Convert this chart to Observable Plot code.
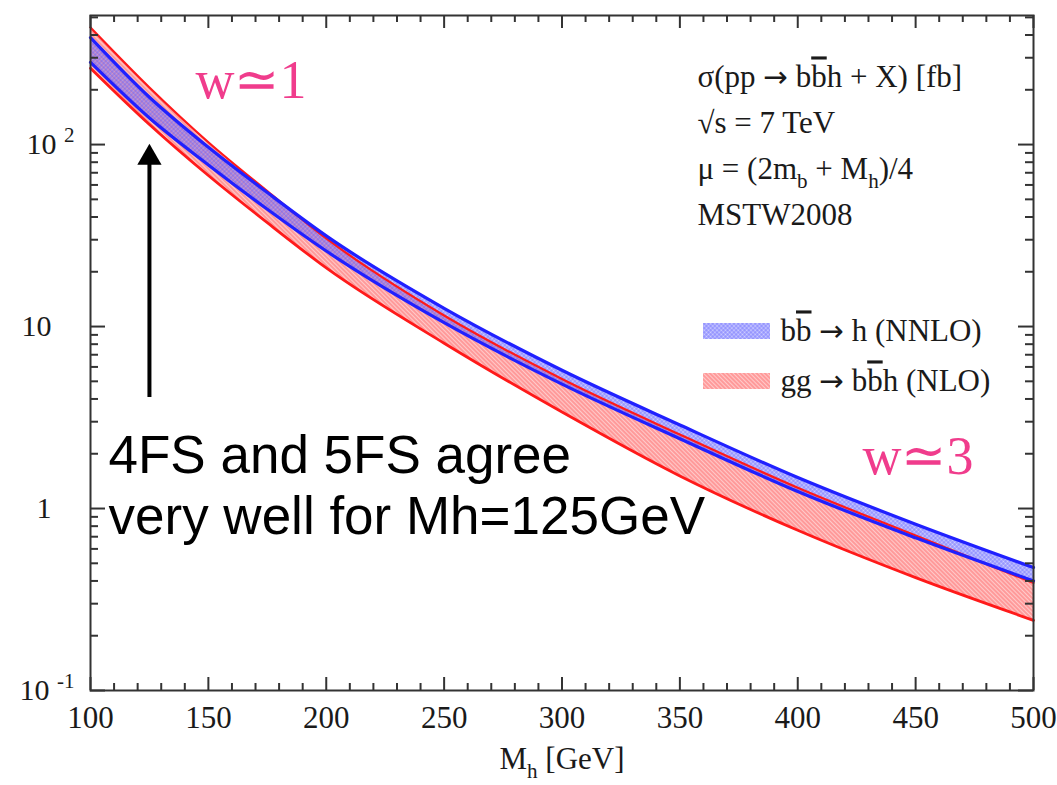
<!DOCTYPE html>
<html><head><meta charset="utf-8">
<script src="https://cdn.jsdelivr.net/npm/d3@7"></script>
<script src="https://cdn.jsdelivr.net/npm/@observablehq/plot@0.6"></script>
<style>body{margin:0;background:#fff}</style>
</head><body><div id="chart"></div>
<script>
// ---- data ----
const massGeV      = [100, 125, 150, 175, 200, 250, 300, 350, 400, 450, 500];
const bbhNNLOHigh  = [387, 182, 96.6, 54.5, 31.5, 12.6, 5.75, 2.88, 1.48, 0.82, 0.474];
const bbhNNLOLow   = [283, 140, 77.3, 44.1, 26.0, 10.5, 4.83, 2.42, 1.24, 0.69, 0.40];
const ggbbhNLOHigh = [440, 206, 103, 55.5, 30.5, 11.5, 5.15, 2.55, 1.30, 0.71, 0.39];
const ggbbhNLOLow  = [263, 129, 67.6, 37.2, 21.0, 8.1, 3.39, 1.51, 0.759, 0.417, 0.243];

const xMajorTicks = [100, 150, 200, 250, 300, 350, 400, 450, 500];
const xTickLabels = ["100", "150", "200", "250", "300", "350", "400", "450", "500"];
const yMajorTicks = [0.1, 1, 10, 100];
const yTickBase   = ["10", "1", "10", "10"];
const yTickExp    = ["-1", "", "", "2"];

const infoLines = ["σ(pp @{→} b~{b}h + X) [fb]", "√s = 7 TeV", "μ = (2m_{b} + M_{h})/4", "MSTW2008"];
const legendLabels = ["b~{b} @{→} h (NNLO)", "gg @{→} b~{b}h (NLO)"];
const noteLines = ["4FS and 5FS agree", "very well for Mh=125GeV"];
const arrowMass = 125, arrowFrom = 4.07, arrowShaftTo = 87, arrowTip = 101;

// ---- derived tables ----
const blue = massGeV.map((m, i) => ({m, lo: bbhNNLOLow[i], hi: bbhNNLOHigh[i]}));
const red  = massGeV.map((m, i) => ({m, lo: ggbbhNLOLow[i], hi: ggbbhNLOHigh[i]}));
const xMinorTicks = d3.range(110, 500, 10).filter(v => v % 50 !== 0);
const yMinorTicks = [0.1, 1, 10, 100].flatMap(d => d3.range(2, 10).map(k => +(k * d).toPrecision(3))).filter(v => v < 512);
const yPlain = yMajorTicks.map((v, i) => ({v, t: yTickBase[i]})).filter((d, i) => !yTickExp[i]);
const yExp = yMajorTicks.map((v, i) => ({v, t: yTickBase[i] + " ^{" + yTickExp[i] + "}"})).filter((d, i) => yTickExp[i]);

const W = 1057, H = 785, ML = 90, MR = 24, MT = 15, MB = 95;
const PW = W - ML - MR, PH = H - MT - MB;
const tickCol = "#333", RED_PH = "#fe0001", BLUE_PH = "#0001fe";
const curve = "monotone-x";

const marks = [
  Plot.areaY(red, {x: "m", y1: "lo", y2: "hi", fill: RED_PH, curve}),
  Plot.areaY(blue, {x: "m", y1: "lo", y2: "hi", fill: BLUE_PH, curve}),
  Plot.lineY(red, {x: "m", y: "hi", stroke: "#ff1a1a", strokeWidth: 2.2, curve}),
  Plot.lineY(red, {x: "m", y: "lo", stroke: "#ff1a1a", strokeWidth: 2.8, curve}),
  Plot.lineY(blue, {x: "m", y: "hi", stroke: "#2020ff", strokeWidth: 3.2, curve}),
  Plot.lineY(blue, {x: "m", y: "lo", stroke: "#2020ff", strokeWidth: 3.2, curve}),
  // ticks (inward, all four sides)
  Plot.tickX(xMajorTicks, {x: d => d, insetTop: PH - 13, stroke: tickCol, strokeWidth: 2}),
  Plot.tickX(xMajorTicks, {x: d => d, insetBottom: PH - 13, stroke: tickCol, strokeWidth: 2}),
  Plot.tickX(xMinorTicks, {x: d => d, insetTop: PH - 7, stroke: tickCol, strokeWidth: 2}),
  Plot.tickX(xMinorTicks, {x: d => d, insetBottom: PH - 7, stroke: tickCol, strokeWidth: 2}),
  Plot.tickY(yMajorTicks, {y: d => d, insetRight: PW - 15, stroke: tickCol, strokeWidth: 2}),
  Plot.tickY(yMajorTicks, {y: d => d, insetLeft: PW - 15, stroke: tickCol, strokeWidth: 2}),
  Plot.tickY(yMinorTicks, {y: d => d, insetRight: PW - 8, stroke: tickCol, strokeWidth: 2}),
  Plot.tickY(yMinorTicks, {y: d => d, insetLeft: PW - 8, stroke: tickCol, strokeWidth: 2}),
  Plot.frame({stroke: tickCol, strokeWidth: 2}),
  // tick labels
  Plot.text(xMajorTicks, {x: d => d, text: (d, i) => xTickLabels[i], frameAnchor: "bottom", dy: 28, lineAnchor: "middle", fontSize: 31, fill: "#1a1a1a"}),
  Plot.text(yPlain, {y: "v", text: "t", frameAnchor: "left", dx: -39, textAnchor: "end", lineAnchor: "middle", fontSize: 30, fill: "#1a1a1a"}),
  Plot.text(yExp, {y: "v", text: "t", frameAnchor: "left", dx: -16, textAnchor: "end", lineAnchor: "middle", fontSize: 30, fill: "#1a1a1a"}),
  Plot.text(["M_{h} [GeV]"], {text: d => d, frameAnchor: "bottom", dy: 69, lineAnchor: "middle", fontSize: 31, fill: "#1a1a1a"}),
  // arrow
  Plot.ruleX([arrowMass], {x: d => d, y1: arrowFrom, y2: arrowShaftTo, stroke: "black", strokeWidth: 4}),
  Plot.dot([arrowMass], {x: d => d, y: () => arrowTip, symbol: "triangle", r: 9, fill: "black", dy: 14}),
  // annotations
  ...infoLines.map((t, i) => Plot.text([t], {text: d => d, frameAnchor: "top-left", dx: 607, dy: 62 + i * 46, textAnchor: "start", lineAnchor: "middle", fontSize: 31, fill: "#1a1a1a"})),
  ...legendLabels.map((t, i) => Plot.text([t], {text: d => d, frameAnchor: "top-left", dx: 690, dy: 316 + i * 50, textAnchor: "start", lineAnchor: "middle", fontSize: 31, fill: "#1a1a1a"})),
  Plot.text(["w≃1"], {text: d => d, frameAnchor: "top-left", dx: 105, dy: 65, textAnchor: "start", lineAnchor: "middle", fontSize: 54, fill: "#f03c8c"}),
  Plot.text(["w≃3"], {text: d => d, frameAnchor: "top-left", dx: 772, dy: 441, textAnchor: "start", lineAnchor: "middle", fontSize: 54, fill: "#f03c8c"}),
  ...noteLines.map((t, i) => Plot.text([t], {text: d => d, frameAnchor: "top-left", dx: 18, dy: 441 + i * 61, textAnchor: "start", lineAnchor: "middle", fontSize: 53, fontFamily: "Liberation Sans, Arial, sans-serif", fill: "black"}))
];

const svg = Plot.plot({
  width: W, height: H,
  marginLeft: ML, marginRight: MR, marginTop: MT, marginBottom: MB,
  style: {fontFamily: "Liberation Serif, Times New Roman, serif", fontSize: "31px", background: "white", overflow: "visible"},
  x: {domain: [100, 500], axis: null},
  y: {type: "log", domain: [0.1, 512], axis: null},
  marks
});
document.getElementById("chart").append(svg);

// hatch patterns
const sel = d3.select(svg);
sel.insert("defs", ":first-child").html(`
  <pattern id="hatchRed" width="3" height="3" patternUnits="userSpaceOnUse" patternTransform="rotate(-45)">
    <rect width="3" height="3" fill="#ffcaca"/>
    <line x1="1" y1="0" x2="1" y2="3" stroke="#ff8080" stroke-width="1.3"/>
  </pattern>
  <pattern id="hatchBlue" width="3" height="3" patternUnits="userSpaceOnUse" patternTransform="rotate(45)">
    <rect width="3" height="3" fill="rgba(140,140,255,0.38)"/>
    <line x1="1" y1="0" x2="1" y2="3" stroke="rgba(70,70,255,0.55)" stroke-width="0.9"/>
    <line x1="0" y1="1" x2="3" y2="1" stroke="rgba(70,70,255,0.55)" stroke-width="0.9"/>
  </pattern>`);
sel.selectAll("[fill]").each(function () {
  const f = (this.getAttribute("fill") || "").toLowerCase();
  if (f === RED_PH) this.setAttribute("fill", "url(#hatchRed)");
  if (f === BLUE_PH) this.setAttribute("fill", "url(#hatchBlue)");
});

// legend swatches
const lg = sel.append("g");
lg.append("rect").attr("x", 703).attr("y", 323).attr("width", 67).attr("height", 16).attr("fill", "url(#hatchBlue)");
lg.append("rect").attr("x", 703).attr("y", 373).attr("width", 67).attr("height", 16).attr("fill", "url(#hatchRed)");

// rich text: _{sub}, ^{sup}, ~{overline}, @{symbol font}
function richText(el) {
  const s = el.textContent;
  if (!/[_^~@]\{/.test(s)) return;
  const F = parseFloat(getComputedStyle(el).fontSize) || 31;
  const parts = []; const re = /([_^~@])\{([^}]*)\}/g; let last = 0, m;
  while ((m = re.exec(s))) {
    if (m.index > last) parts.push(["", s.slice(last, m.index)]);
    parts.push([m[1], m[2]]); last = re.lastIndex;
  }
  if (last < s.length) parts.push(["", s.slice(last)]);
  while (el.firstChild) el.removeChild(el.firstChild);
  let shift = 0;
  for (const [k, t] of parts) {
    const ts = document.createElementNS("http://www.w3.org/2000/svg", "tspan");
    ts.textContent = t;
    let target = 0;
    if (k === "_") { target = 0.28 * F; ts.setAttribute("font-size", 0.68 * F); }
    else if (k === "^") { target = -0.42 * F; ts.setAttribute("font-size", 0.7 * F); }
    else if (k === "~") { ts.setAttribute("text-decoration", "overline"); }
    else if (k === "@") { ts.setAttribute("font-family", "DejaVu Sans"); ts.setAttribute("font-size", 0.95 * F); }
    const d = target - shift;
    if (d) ts.setAttribute("dy", d);
    shift = target;
    el.appendChild(ts);
  }
}
sel.selectAll("text").each(function () { richText(this); });
sel.attr("xml:space", "preserve");
</script>
</body></html>
